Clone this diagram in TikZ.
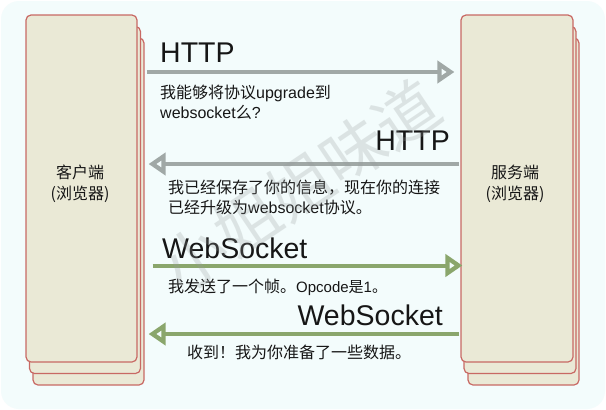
\documentclass[tikz,border=0pt]{standalone}
\usepackage{fontspec}
\setmainfont{Liberation Sans}
\newfontfamily\cjk{Noto Sans CJK SC}
\usetikzlibrary{arrows.meta}
\newcommand{\zhtxt}[1]{{\cjk #1}}
\definecolor{bgc}{RGB}{243,252,252}
\definecolor{boxfill}{RGB}{234,233,214}
\definecolor{boxline}{RGB}{200,105,100}
\definecolor{grayarrow}{RGB}{160,168,166}
\definecolor{greenarrow}{RGB}{138,166,108}
\definecolor{txt}{RGB}{22,22,22}
\definecolor{wm}{RGB}{150,156,156}
\tikzset{
  stackbox/.style={draw=boxline, fill=boxfill, line width=1.2pt, rounded corners=5pt, inner sep=0pt},
  boxlabel/.style={font=\cjk\fontsize{16}{21}\selectfont, text=txt, align=center},
  proto/.style={font=\fontsize{28.5}{30}\selectfont, text=txt, inner sep=0pt},
  msg/.style={font=\fontsize{16}{20}\selectfont, text=txt, inner sep=0pt, align=left},
  grayflow/.style={draw=grayarrow, line width=4pt, -{Triangle[open,length=17pt,width=22pt,line width=5pt]}},
  greenflow/.style={draw=greenarrow, line width=4pt, -{Triangle[open,length=17pt,width=22pt,line width=5pt]}},
}
\begin{document}
\begin{tikzpicture}[x=1pt,y=-1pt]
\useasboundingbox (0,0) rectangle (606,410);
\fill[white] (0,0) rectangle (606,410);
\path[fill=bgc,rounded corners=18pt] (1,1) rectangle (605,409);
% client stack
\node[stackbox, minimum width=111pt, minimum height=347pt] (clientc) at (88.5,211.5) {};
\node[stackbox, minimum width=111pt, minimum height=347pt] (clientb) at (85,200) {};
\node[stackbox, minimum width=111pt, minimum height=347pt] (client) at (81.5,188.5) {};
\node[boxlabel] (clientlbl) at (80,184) {客户端\\(浏览器)};
% server stack
\node[stackbox, minimum width=111pt, minimum height=347pt] (serverc) at (523.5,211.5) {};
\node[stackbox, minimum width=112pt, minimum height=347pt] (serverb) at (520,200) {};
\node[stackbox, minimum width=112pt, minimum height=347pt] (server) at (517,188.5) {};
\node[boxlabel] (serverlbl) at (515,184) {服务端\\(浏览器)};
% arrows
\draw[grayflow] ([xshift=9pt,yshift=116.5pt]client.east) -- ([xshift=-6pt,yshift=116.5pt]server.west);
\draw[grayflow] ([xshift=-1pt,yshift=24.5pt]server.west) -- ([xshift=11pt,yshift=24.5pt]client.east);
\draw[greenflow] ([xshift=15pt,yshift=-77pt]client.east) -- ([xshift=2pt,yshift=-77pt]server.west);
\draw[greenflow] ([xshift=-1pt,yshift=-145.5pt]server.west) -- ([xshift=11pt,yshift=-145.5pt]client.east);
% labels
\node[proto, anchor=base west] (p1) at (160,62) {HTTP};
\node[msg, anchor=base west] (m1a) at (160,98) {\zhtxt{我能够将协议}upgrade\zhtxt{到}};
\node[msg, anchor=base west] (m1b) at (160,118) {websocket\zhtxt{么}?};
\node[proto, anchor=base east] (p2) at (450,150) {HTTP};
\node[msg, anchor=base west] (m2a) at (168,193) {\zhtxt{我已经保存了你的信息，现在你的连接}};
\node[msg, anchor=base west] (m2b) at (168,213) {\zhtxt{已经升级为}websocket\zhtxt{协议。}};
\node[proto, anchor=base west] (p3) at (162,258) {WebSocket};
\node[msg, anchor=base west] (m3) at (168,292) {\zhtxt{我发送了一个帧。}{\fontsize{15}{16}\selectfont Opcode\zhtxt{是}1\zhtxt{。}}};
\node[proto, anchor=base east] (p4) at (443,325) {WebSocket};
\node[msg, anchor=base west] (m4) at (187,358) {\zhtxt{收到！我为你准备了一些数据。}};
% watermark
\node[font=\cjk\fontsize{64}{64}\selectfont, text=wm, text opacity=0.25, rotate=34] (wmark) at (300,186) {小姐姐味道};
\end{tikzpicture}
\end{document}
